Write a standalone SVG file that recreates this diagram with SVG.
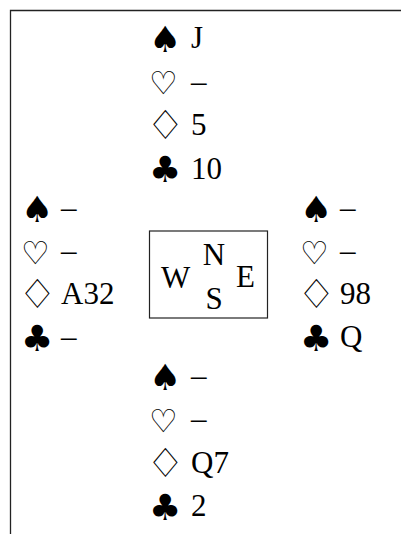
<svg xmlns="http://www.w3.org/2000/svg" width="401" height="534" viewBox="0 0 401 534">
<style>
.t{font-family:"Liberation Serif","DejaVu Serif",serif;font-size:31px;fill:#000}
.s{font-family:"DejaVu Sans",sans-serif;font-size:36px;fill:#000}
.h{font-family:"DejaVu Sans",sans-serif;font-size:32px;fill:#000}
.d{font-family:"DejaVu Sans",sans-serif;font-size:32px;fill:#000}
.frame{fill:none;stroke:#222;stroke-width:1.3}
</style>
<rect width="401" height="534" fill="#fff"/>
<g id="frame">
<path class="frame" d="M10.5,534 V10.5 H401"/>
</g>
<g id="north">
<text class="s" x="149" y="52">♠</text><text class="t" x="191" y="48">J</text>
<text class="h" x="149" y="94">♡</text><text class="t" x="191" y="91.5">–</text>
<text class="d" transform="translate(146,139) scale(1.35,1.25)">♢</text><text class="t" x="191" y="135">5</text>
<text class="s" x="149" y="182">♣</text><text class="t" x="191" y="178.5">10</text>
</g>
<g id="west">
<text class="s" x="21" y="222">♠</text><text class="t" x="61" y="218">–</text>
<text class="h" x="21" y="264">♡</text><text class="t" x="61" y="261">–</text>
<text class="d" transform="translate(18,308) scale(1.35,1.25)">♢</text><text class="t" x="61" y="304">A32</text>
<text class="s" x="21" y="351">♣</text><text class="t" x="61" y="347">–</text>
</g>
<g id="east">
<text class="s" x="300" y="222">♠</text><text class="t" x="340" y="218">–</text>
<text class="h" x="300" y="264">♡</text><text class="t" x="340" y="261">–</text>
<text class="d" transform="translate(297,308) scale(1.35,1.25)">♢</text><text class="t" x="340" y="304">98</text>
<text class="s" x="300" y="351">♣</text><text class="t" x="340" y="347">Q</text>
</g>
<g id="compass">
<rect x="149.5" y="231" width="118" height="87" fill="none" stroke="#222" stroke-width="1.2"/>
<text class="t" x="161" y="288">W</text>
<text class="t" x="214" y="265" text-anchor="middle">N</text>
<text class="t" x="214" y="309" text-anchor="middle">S</text>
<text class="t" x="236" y="287">E</text>
</g>
<g id="south">
<text class="s" x="149" y="390">♠</text><text class="t" x="191" y="386">–</text>
<text class="h" x="149" y="432">♡</text><text class="t" x="191" y="429">–</text>
<text class="d" transform="translate(146,477) scale(1.35,1.25)">♢</text><text class="t" x="191" y="473">Q7</text>
<text class="s" x="149" y="520">♣</text><text class="t" x="191" y="516">2</text>
</g>
<g id="connectors"></g>
</svg>
